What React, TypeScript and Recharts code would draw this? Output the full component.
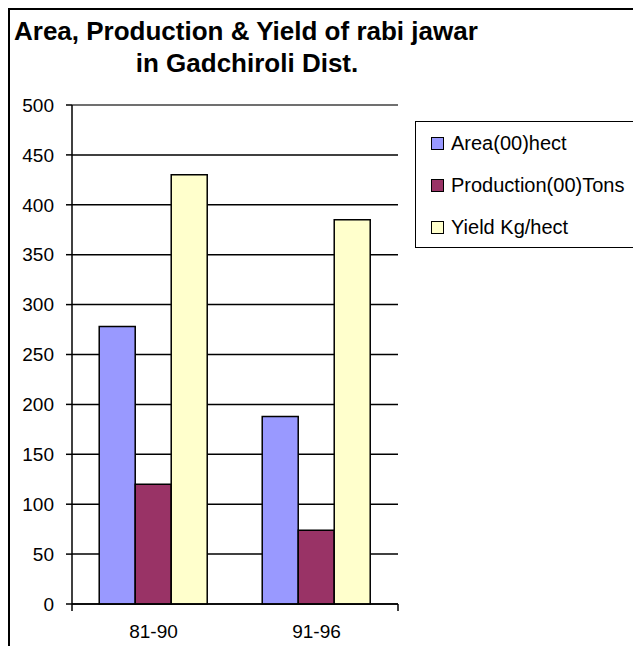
import React from 'react';
import { BarChart, Bar, XAxis, YAxis, CartesianGrid, Legend, ReferenceLine } from 'recharts';

const categories = ['81-90', '91-96'];
const areaValues = [278, 188];
const productionValues = [120, 74];
const yieldValues = [430, 385];
const yTicks = [0, 50, 100, 150, 200, 250, 300, 350, 400, 450, 500];
const seriesNames = ['Area(00)hect', 'Production(00)Tons', 'Yield Kg/hect'];
const seriesColors = ['#9999FF', '#993366', '#FFFFCC'];
const titleLines = ['Area, Production & Yield of rabi jawar', 'in Gadchiroli Dist.'];

const data = categories.map((c, i) => ({
  name: c,
  area: areaValues[i],
  production: productionValues[i],
  yieldv: yieldValues[i],
}));
const seriesKeys = ['area', 'production', 'yieldv'];
const edgeTicks = [...categories.map((_, i) => i), categories.length];

const FONT = '"Liberation Sans", Arial, sans-serif';

const renderLegend = (props: any) => {
  const payload = props.payload || [];
  return (
    <div
      style={{
        border: '1.5px solid #000',
        boxSizing: 'border-box',
        width: 260,
        height: 127,
        background: '#fff',
        color: '#000',
      }}
    >
      {payload.map((entry: any, i: number) => (
        <div key={i} style={{ display: 'flex', alignItems: 'center', height: 42, paddingLeft: 15 }}>
          <span
            style={{
              display: 'inline-block',
              width: 11,
              height: 11,
              background: entry.color,
              border: '1px solid #000',
              marginRight: 7,
              flex: 'none',
            }}
          />
          <span
            style={{
              fontFamily: FONT,
              fontSize: '20px',
              lineHeight: '20px',
              whiteSpace: 'nowrap',
              color: '#000',
            }}
          >
            {entry.value}
          </span>
        </div>
      ))}
    </div>
  );
};

export default function App() {
  return (
    <div
      style={{
        position: 'fixed',
        left: 0,
        top: 0,
        width: 633,
        height: 646,
        overflow: 'hidden',
        background: '#fff',
        fontFamily: FONT,
      }}
    >
      <div
        style={{
          position: 'absolute',
          left: 8,
          top: 8,
          width: 700,
          height: 700,
          border: '2px solid #000',
          boxSizing: 'border-box',
        }}
      />
      <div
        style={{
          position: 'absolute',
          left: 14,
          top: 18,
          fontSize: 26,
          lineHeight: '26px',
          fontWeight: 'bold',
          whiteSpace: 'nowrap',
          color: '#000',
        }}
      >
        {titleLines[0]}
      </div>
      <div
        style={{
          position: 'absolute',
          left: 47,
          width: 400,
          top: 50,
          fontSize: 26,
          lineHeight: '26px',
          fontWeight: 'bold',
          textAlign: 'center',
          whiteSpace: 'nowrap',
          color: '#000',
        }}
      >
        {titleLines[1]}
      </div>
      <div style={{ position: 'absolute', left: 0, top: 0 }}>
        <BarChart
          width={633}
          height={646}
          data={data}
          margin={{ top: 105, right: 235, bottom: 0, left: 12 }}
          barGap={0}
          barCategoryGap="16.7%"
        >
          <CartesianGrid xAxisId="cat" yAxisId="left" vertical={false} stroke="#000" strokeWidth={1.5} />
          <XAxis
            type="number"
            domain={[0, categories.length]}
            ticks={edgeTicks}
            allowDataOverflow
            height={1}
            axisLine={{ stroke: '#000', strokeWidth: 1.5 }}
            tickLine={{ stroke: '#000', strokeWidth: 1.5 }}
            tickSize={7}
            tickFormatter={() => ''}
          />
          <XAxis
            xAxisId="cat"
            dataKey="name"
            height={41}
            axisLine={false}
            tickLine={false}
            tickSize={0}
            tickMargin={20}
            tick={{ fill: '#000', fontSize: 19, fontFamily: FONT }}
          />
          <YAxis
            yAxisId="left"
            domain={[0, 500]}
            ticks={yTicks}
            width={60}
            axisLine={{ stroke: '#000', strokeWidth: 1.5 }}
            tickLine={{ stroke: '#000', strokeWidth: 1.5 }}
            tickSize={6}
            tickMargin={12}
            tick={{ fill: '#000', fontSize: 19, fontFamily: FONT }}
          />
          <YAxis
            yAxisId="right"
            orientation="right"
            domain={[0, 500]}
            width={0}
            axisLine={{ stroke: '#808080', strokeWidth: 1.5 }}
            tickLine={false}
            tick={false}
          />
          <ReferenceLine xAxisId="cat" yAxisId="left" y={500} stroke="#808080" strokeWidth={1.5} />
          <Legend
            layout="vertical"
            align="center"
            verticalAlign="middle"
            content={renderLegend}
            wrapperStyle={{ left: 415, top: 121, width: 260, height: 127 }}
          />
          {seriesKeys.map((k, i) => (
            <Bar
              key={k}
              xAxisId="cat"
              yAxisId="left"
              dataKey={k}
              name={seriesNames[i]}
              fill={seriesColors[i]}
              stroke="#000"
              strokeWidth={1.5}
              isAnimationActive={false}
            />
          ))}
        </BarChart>
      </div>
    </div>
  );
}
